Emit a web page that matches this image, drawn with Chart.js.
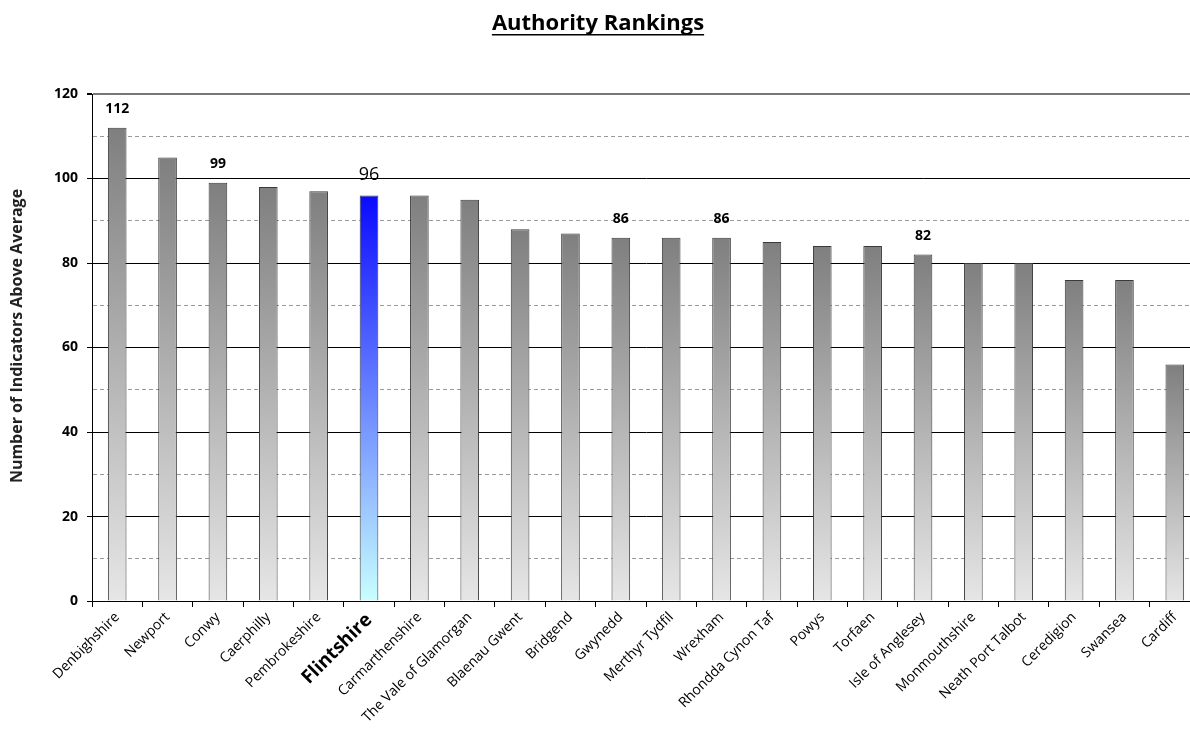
<!DOCTYPE html>
<html>
<head>
<meta charset="utf-8">
<script src="https://cdn.jsdelivr.net/npm/chart.js@4.4.1/dist/chart.umd.min.js"></script>
<style>
  html, body { margin: 0; background: #fff; overflow: hidden; }
  canvas { display: block; }
</style>
</head>
<body>
<!-- canvas is a little wider than the window: the plot runs off the right edge, as in the original -->
<canvas id="rankChart" width="1200" height="744"></canvas>
<script>
// Authorities, ranked by number of indicators above average
const authorities = [
    'Denbighshire', 'Newport', 'Conwy', 'Caerphilly', 'Pembrokeshire', 'Flintshire',
    'Carmarthenshire', 'The Vale of Glamorgan', 'Blaenau Gwent', 'Bridgend', 'Gwynedd',
    'Merthyr Tydfil', 'Wrexham', 'Rhondda Cynon Taf', 'Powys', 'Torfaen', 'Isle of Anglesey',
    'Monmouthshire', 'Neath Port Talbot', 'Ceredigion', 'Swansea', 'Cardiff'
];
const indicatorsAboveAverage = [112, 105, 99, 98, 97, 96, 96, 95, 88, 87, 86, 86, 86, 85, 84, 84, 82, 80, 80, 76, 76, 56];
const labelledAuthorities = ['Denbighshire', 'Conwy', 'Flintshire', 'Gwynedd', 'Wrexham', 'Isle of Anglesey'];
const highlighted = 'Flintshire';
const yTicks = [0, 20, 40, 60, 80, 100, 120];

const FONT = '"Open Sans", Lato, sans-serif';

// Gradient for each bar, from its own top down to zero
function barGradient(context) {
    const chart = context.chart;
    const { chartArea, scales } = chart;
    if (!chartArea) return '#999';
    const top = scales.y.getPixelForValue(context.raw);
    const bottom = scales.y.getPixelForValue(0);
    const g = chart.ctx.createLinearGradient(0, top, 0, bottom);
    if (authorities[context.dataIndex] === highlighted) {
        g.addColorStop(0, '#0a0aff');
        g.addColorStop(1, '#c8ffff');
    } else {
        g.addColorStop(0, '#7f7f7f');
        g.addColorStop(1, '#e6e6e6');
    }
    return g;
}

// Underlined title and the y axis caption
const titlePlugin = {
    id: 'underlinedTitle',
    afterDraw(chart) {
        const ctx = chart.ctx;
        const text = 'Authority Rankings';
        ctx.save();
        ctx.font = 'bold 22px ' + FONT;
        ctx.fillStyle = '#000';
        ctx.textAlign = 'center';
        ctx.textBaseline = 'alphabetic';
        const cx = 598, y = 30;
        ctx.fillText(text, cx, y);
        const w = ctx.measureText(text).width;
        ctx.fillRect(cx - w / 2, y + 4, w, 1.5);

        // y axis caption, sitting a bit above the middle like the original
        ctx.translate(17, 336);
        ctx.rotate(-Math.PI / 2);
        ctx.font = 'bold 16px ' + FONT;
        ctx.fillStyle = '#222';
        ctx.textBaseline = 'middle';
        ctx.fillText('Number of Indicators Above Average', 0, 0);
        ctx.restore();
    }
};

// Value labels above selected bars
const valueLabels = {
    id: 'valueLabels',
    afterDatasetsDraw(chart) {
        const ctx = chart.ctx;
        const meta = chart.getDatasetMeta(0);
        ctx.save();
        ctx.textAlign = 'center';
        ctx.textBaseline = 'bottom';
        ctx.fillStyle = '#000';
        labelledAuthorities.forEach(name => {
            const i = authorities.indexOf(name);
            const bar = meta.data[i];
            if (name === highlighted) {
                ctx.font = '18px ' + FONT;
                ctx.fillText(indicatorsAboveAverage[i], bar.x, bar.y - 12);
            } else {
                ctx.font = 'bold 14px ' + FONT;
                ctx.fillText(indicatorsAboveAverage[i], bar.x, bar.y - 12);
            }
        });
        ctx.restore();
    }
};

new Chart(document.getElementById('rankChart').getContext('2d'), {
    type: 'bar',
    data: {
        labels: authorities,
        datasets: [{
            data: indicatorsAboveAverage,
            backgroundColor: barGradient,
            borderColor: '#3a3a3a',
            borderWidth: 1,
            borderSkipped: 'bottom',
            barPercentage: 0.37,
            categoryPercentage: 1
        }]
    },
    options: {
        responsive: false,
        animation: false,
        layout: { padding: { top: 94, left: 45, right: 0, bottom: 12 } },
        plugins: {
            legend: { display: false },
            tooltip: { enabled: false }
        },
        scales: {
            x: {
                grid: {
                    offset: true,
                    drawOnChartArea: false,
                    drawTicks: true,
                    tickLength: 6,
                    color: '#000'
                },
                border: { display: true, color: '#000' },
                ticks: {
                    autoSkip: false,
                    maxRotation: 45,
                    minRotation: 45,
                    padding: 2,
                    color: '#000',
                    font: ctx => authorities[ctx.index] === highlighted
                        ? { family: FONT, size: 19, weight: 'bold' }
                        : { family: FONT, size: 14 }
                }
            },
            y: {
                min: 0,
                max: 120,
                ticks: {
                    stepSize: 10,
                    padding: 9,
                    color: '#000',
                    font: { family: FONT, size: 14, weight: 'bold' },
                    callback: v => yTicks.includes(v) ? v : ''
                },
                grid: {
                    color: ctx => {
                        const v = ctx.tick ? ctx.tick.value : 0;
                        if (v === 120) return '#777';
                        return v % 20 === 0 ? '#000' : '#9a9a9a';
                    },
                    lineWidth: ctx => ctx.tick && ctx.tick.value === 120 ? 2 : 1,
                    tickColor: ctx => ctx.tick && ctx.tick.value % 20 === 0 ? '#000' : 'rgba(0,0,0,0)',
                    tickLength: 5
                },
                border: {
                    display: true,
                    color: '#000',
                    dash: ctx => ctx.tick && ctx.tick.value % 20 !== 0 ? [4, 3] : []
                }
            }
        }
    },
    plugins: [titlePlugin, valueLabels]
});
</script>
</body>
</html>
